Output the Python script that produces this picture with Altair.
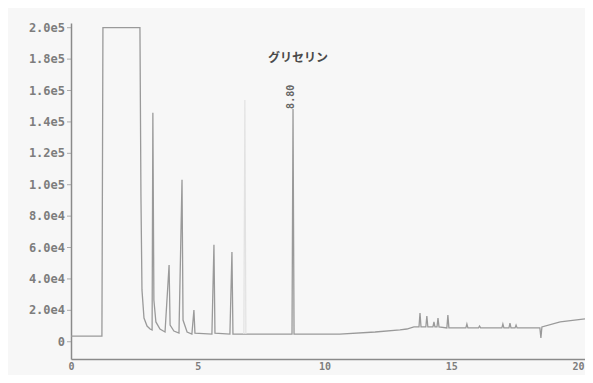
import altair as alt
import pandas as pd

# main trace (time in min, signal)
times = [0.0, 1.22, 1.26, 2.72, 2.76, 2.80, 2.88, 3.00, 3.12, 3.20, 3.23, 3.27, 3.35, 3.51,
         3.71, 3.87, 3.91, 4.06, 4.26, 4.38, 4.42, 4.58, 4.77, 4.85, 4.89, 5.56, 5.64, 5.68,
         6.27, 6.35, 6.39, 8.72, 8.76, 8.80, 10.6, 12.0, 12.98, 13.25, 13.53, 13.73, 13.77,
         13.81, 14.00, 14.04, 14.08, 14.28, 14.32, 14.36, 14.44, 14.48, 14.52, 14.83, 14.87,
         14.91, 15.58, 15.62, 15.66, 16.08, 16.12, 16.16, 17.00, 17.04, 17.08, 17.28, 17.32,
         17.36, 17.52, 17.56, 17.60, 18.50, 18.54, 18.58, 19.30, 20.28]
values = [3600, 3600, 200000, 200000, 92300, 33000, 15100, 10000, 8100, 7500, 145800, 26600,
          12600, 8100, 6200, 48900, 10600, 6800, 5500, 103100, 13800, 6200, 4900, 20200, 5500,
          4900, 61700, 5500, 4900, 57200, 4900, 4900, 148300, 4900, 4900, 6200, 7500, 8100,
          9400, 9400, 18300, 9400, 9400, 16400, 9400, 9400, 12600, 9400, 9400, 15100, 9400,
          8800, 17000, 8800, 8800, 11300, 8800, 8800, 10000, 8800, 8800, 11300, 8800, 8800,
          11900, 8800, 8800, 10600, 8800, 8800, 2400, 9400, 12600, 14500]

# faintly printed peak
faint_times = [6.82, 6.86, 6.90]
faint_values = [4900, 154000, 4900]

peak_name = ["グリセリン"]
peak_time = [8.76]
peak_value = [181000]
rt_text = ["8.80"]
rt_value = [148300]

y_ticks = [0, 20000, 40000, 60000, 80000, 100000, 120000, 140000, 160000, 180000, 200000]
y_labels = ["0", "2.0e4", "4.0e4", "6.0e4", "8.0e4", "1.0e5", "1.2e5", "1.4e5", "1.6e5",
            "1.8e5", "2.0e5"]
x_ticks = [0, 5, 10, 15, 20]

df = pd.DataFrame({"t": times, "v": values, "o": list(range(len(times)))})
df_f = pd.DataFrame({"t": faint_times, "v": faint_values, "o": list(range(len(faint_times)))})
df_lab = pd.DataFrame({"t": peak_time, "v": peak_value, "name": peak_name})
df_rt = pd.DataFrame({"t": peak_time, "v": rt_value, "name": rt_text})
df_yl = pd.DataFrame({"v": y_ticks, "lab": y_labels})

xs = alt.Scale(domain=[0, 20.28], nice=False, zero=False)
ys = alt.Scale(domain=[-11000, 203000], nice=False, zero=False)

font = "DejaVu Sans Mono"
xaxis = alt.Axis(values=x_ticks, title=None, grid=False, domainColor="#8a8a8a", domainWidth=1.5,
                 ticks=False, labelPadding=2, labelFont=font, labelFontSize=10, labelFontWeight="bold",
                 labelColor="#7d7d7d", labelFlush=False, labelOverlap=False)
yaxis = alt.Axis(values=y_ticks, title=None, grid=False, domainColor="#8a8a8a", domainWidth=1.5,
                 ticks=False, labels=False)

main = alt.Chart(df).mark_line(color="#9a9a9a", strokeWidth=1.3).encode(
    x=alt.X("t:Q", scale=xs, axis=xaxis),
    y=alt.Y("v:Q", scale=ys, axis=yaxis),
    order="o:Q",
)
faint = alt.Chart(df_f).mark_line(color="#e2e2e2", strokeWidth=1.2).encode(
    x=alt.X("t:Q"), y=alt.Y("v:Q"), order="o:Q")

label = alt.Chart(df_lab).mark_text(font="Noto Sans CJK JP", fontSize=12, fontWeight="bold",
                                    color="#4a4a4a", dx=5).encode(
    x=alt.X("t:Q"), y=alt.Y("v:Q"), text="name:N")
rt = alt.Chart(df_rt).mark_text(font=font, fontSize=10, fontWeight="bold", color="#666666",
                                angle=270, align="left", baseline="middle", dy=-2).encode(
    x=alt.X("t:Q"), y=alt.Y("v:Q"), text="name:N")
ylab = alt.Chart(df_yl).mark_text(font=font, fontSize=12, fontWeight="bold", color="#7d7d7d",
                                  align="right", baseline="middle").encode(
    x=alt.value(-6), y=alt.Y("v:Q"), text="lab:N")
yticks = alt.Chart(df_yl).mark_tick(color="#8a8a8a", thickness=1, size=4).encode(
    x=alt.value(-2), y=alt.Y("v:Q"))

chart = alt.layer(main, faint, label, rt, ylab, yticks).properties(
    width=514, height=336,
    padding={"left": 63, "top": 15, "right": 0, "bottom": 16},
    autosize=alt.AutoSizeParams(type="none"),
    background="#f7f7f7",
).configure_view(stroke=None)

chart.save("out.html", embed_options={"renderer": "svg", "actions": False})
